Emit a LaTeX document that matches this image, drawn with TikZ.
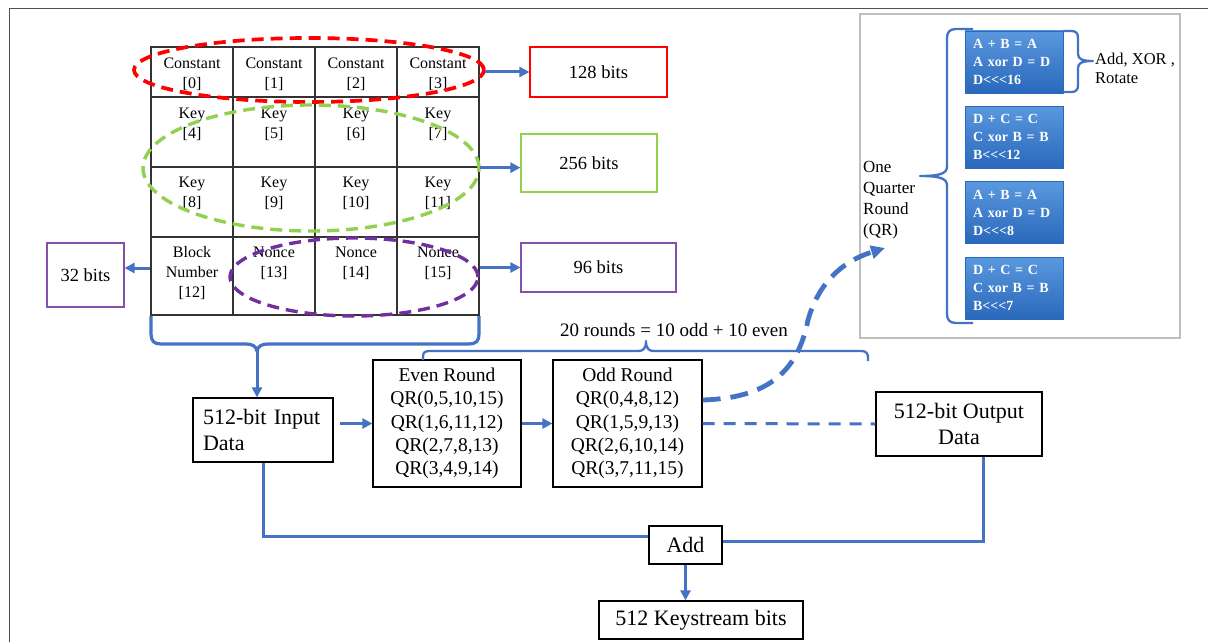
\documentclass[tikz,border=0pt]{standalone}
\usepackage{fontspec}
\setmainfont{Liberation Serif}
\usetikzlibrary{arrows.meta,calc}
\definecolor{lineblue}{HTML}{4472C4}
\definecolor{keyred}{HTML}{FF0000}
\definecolor{keygreen}{HTML}{92D050}
\definecolor{keypurple}{HTML}{7030A0}
\definecolor{panelgray}{HTML}{BFBFBF}
\definecolor{framegray}{HTML}{505050}
\definecolor{qrtop}{HTML}{5A98DE}
\definecolor{qrbot}{HTML}{2A68BC}
\newcommand\fsz[2]{\fontsize{#1}{#2}\selectfont}
\newcommand\rotl{<\kern0pt<\kern0pt<}
\begin{document}
\begin{tikzpicture}[x=1pt,y=-1pt,
  box/.style={draw=black, line width=1.2pt, inner sep=0pt, align=center, font=\fsz{22}{25.5}},
  cell/.style={draw=black!80, line width=1.3pt, minimum width=82pt, inner sep=0pt},
  celltxt/.style={anchor=north, inner sep=0pt, align=center, font=\fsz{16}{20}},
  bitsbox/.style={draw, line width=1.1pt, inner sep=0pt, font=\fsz{18.5}{22}},
  qrbox/.style={top color=qrtop, bottom color=qrbot, draw=qrbot, line width=0.5pt,
    minimum width=98pt, minimum height=62pt, inner xsep=8pt, inner ysep=0pt, text width=82pt,
    align=left, text=white, font=\fsz{14}{18}\bfseries},
  conn/.style={lineblue, line width=3pt},
  arr/.style={conn, -{Triangle[length=10pt,width=10pt]}},
  brace/.style={lineblue, line width=2.3pt, line join=round},
  note/.style={inner sep=0pt, align=left, anchor=north west},
  ring/.style={line width=3.4pt, dash pattern=on 12pt off 7pt}]

\useasboundingbox (0,0) rectangle (1208,642);
\fill[white] (0,0) rectangle (1208,642);
\draw[framegray, line width=1pt] (9,642) -- (9,9) -- (1208,9);

% ---- ChaCha state matrix ----
\foreach \r/\cy/\h in {0/72/50, 1/132/70, 2/202/70, 3/276/78}
  \foreach \c/\cx in {0/192, 1/274, 2/356, 3/438}
  {\pgfmathtruncatemacro\k{4*\r+\c}
   \node[cell, minimum height=\h pt] (c\k) at (\cx,\cy) {};}

\node[celltxt] (t0)  at ($(c0.north)+(0,11)$)  {Constant\\{[0]}};
\node[celltxt] (t1)  at ($(c1.north)+(0,11)$)  {Constant\\{[1]}};
\node[celltxt] (t2)  at ($(c2.north)+(0,11)$)  {Constant\\{[2]}};
\node[celltxt] (t3)  at ($(c3.north)+(0,11)$)  {Constant\\{[3]}};
\node[celltxt] (t4)  at ($(c4.north)+(0,11)$)  {Key\\{[4]}};
\node[celltxt] (t5)  at ($(c5.north)+(0,11)$)  {Key\\{[5]}};
\node[celltxt] (t6)  at ($(c6.north)+(0,11)$)  {Key\\{[6]}};
\node[celltxt] (t7)  at ($(c7.north)+(0,11)$)  {Key\\{[7]}};
\node[celltxt] (t8)  at ($(c8.north)+(0,10)$)  {Key\\{[8]}};
\node[celltxt] (t9)  at ($(c9.north)+(0,10)$)  {Key\\{[9]}};
\node[celltxt] (t10) at ($(c10.north)+(0,10)$) {Key\\{[10]}};
\node[celltxt] (t11) at ($(c11.north)+(0,10)$) {Key\\{[11]}};
\node[celltxt] (t12) at ($(c12.north)+(0,10)$) {Block\\Number\\{[12]}};
\node[celltxt] (t13) at ($(c13.north)+(0,10)$) {Nonce\\{[13]}};
\node[celltxt] (t14) at ($(c14.north)+(0,10)$) {Nonce\\{[14]}};
\node[celltxt] (t15) at ($(c15.north)+(0,10)$) {Nonce\\{[15]}};

% dashed groupings of the state words
\draw[ring, keyred, line width=3.7pt] (309,70) ellipse [x radius=175pt, y radius=32pt];
\draw[ring, keygreen] (311,168) ellipse [x radius=168pt, y radius=63pt];
\draw[ring, keypurple] (354,277) ellipse [x radius=124pt, y radius=39pt];

% ---- sizes of the fields ----
\node[bitsbox, draw=keyred, minimum width=137pt, minimum height=50pt] (b128) at (598.5,72) {128 bits};
\node[bitsbox, draw=keygreen, minimum width=136pt, minimum height=58pt] (b256) at (589,163) {256 bits};
\node[bitsbox, draw=keypurple!85, minimum width=155pt, minimum height=49pt] (b96) at (598.5,267.5) {96 bits};
\node[bitsbox, draw=keypurple!85, minimum width=77pt, minimum height=64pt] (b32) at (85.5,275) {32 bits};

\draw[arr] ([xshift=5pt]c3.east |- b128.west) -- (b128.west);
\draw[arr] (c7.south east) -- (c7.south east -| b256.west);
\draw[arr] (c15.east |- b96.west) -- (b96.west);
\draw[arr] ([yshift=7pt]b32.east -| c12.west) -- ([yshift=7pt]b32.east);

% ---- round pipeline ----
\node[box, minimum width=140pt, minimum height=64pt, text width=120pt, align=left] (in) at (263,430) {512-bit Input\\Data};
\node[box, minimum width=148pt, minimum height=127pt, font=\fsz{19.5}{23.3}] (even) at (447,423.5)
  {Even Round\\QR(0,5,10,15)\\QR(1,6,11,12)\\QR(2,7,8,13)\\QR(3,4,9,14)};
\node[box, minimum width=149pt, minimum height=127pt, font=\fsz{19.5}{23.3}] (odd) at (627.5,423.5)
  {Odd Round\\QR(0,4,8,12)\\QR(1,5,9,13)\\QR(2,6,10,14)\\QR(3,7,11,15)};
\node[box, minimum width=166pt, minimum height=64pt] (out) at (959,424) {512-bit Output\\Data};
\node[box, minimum width=73pt, minimum height=38pt] (add) at (685.5,545) {Add};
\node[box, minimum width=204pt, minimum height=38pt] (ks) at (701,620) {512 Keystream bits};

% brace gathering the whole state
\coordinate (bcusp) at (257,351);
\draw[conn, line width=3.2pt, line join=round] (151,316) -- (151,334) .. controls (151,341) and (154,344) .. (161,344)
  -- (246,344) .. controls (252,344) and (256,346) .. (bcusp)
  .. controls (258,346) and (262,344) .. (268,344) -- (469,344)
  .. controls (476,344) and (479,341) .. (479,334) -- (479,316);
\draw[arr] (bcusp) -- (bcusp |- in.north);

\draw[arr] ([xshift=6pt]in.east |- even.west) -- (even.west);
\draw[arr] (even.east) -- (odd.west);
\draw[conn, dash pattern=on 12pt off 9pt] (odd.east) -- (out.west);
\draw[conn] (in.south) |- ([yshift=9pt]add.west);
\draw[conn] ([xshift=24pt]out.south) |- ([yshift=4pt]add.east);
\draw[arr] (add.south) -- (add.south |- ks.north);

% brace over the twenty rounds
\draw[brace] (423,360) -- (423,357) .. controls (423,352) and (425,351) .. (430,351) -- (638,351)
  .. controls (643,351) and (646,349) .. (646,341) .. controls (646,349) and (649,351) .. (654,351)
  -- (861,351) .. controls (866,351) and (868,353) .. (868,358) -- (868,361);
\node[inner sep=0pt, font=\fsz{19}{22}] (rounds) at (674,330) {20 rounds = 10 odd + 10 even};

% ---- quarter round detail ----
\node[draw=panelgray, line width=1.3pt, minimum width=320pt, minimum height=324pt, inner sep=0pt] (panel) at (1020,176) {};
\node[qrbox] (q1) at (1014,62)    {A + B = A\\A xor D = D\\D\rotl16};
\node[qrbox] (q2) at (1014,137)   {D + C = C\\C xor B = B\\B\rotl12};
\node[qrbox] (q3) at (1014,212.5) {A + B = A\\A xor D = D\\D\rotl8};
\node[qrbox] (q4) at (1014,288)   {D + C = C\\C xor B = B\\B\rotl7};

\draw[brace] (973,29) -- (956,29) .. controls (950,29) and (947,32) .. (947,38) -- (947,166)
  .. controls (947,173) and (942,176) .. (920,176) .. controls (942,176) and (947,179) .. (947,186)
  -- (947,314) .. controls (947,320) and (950,323) .. (956,323) -- (973,323);
\draw[brace] (1063,31) -- (1071,31) .. controls (1076,31) and (1078,33) .. (1078,38) -- (1078,54)
  .. controls (1078,59) and (1082,61) .. (1093,61) .. controls (1082,61) and (1078,63) .. (1078,68)
  -- (1078,85) .. controls (1078,90) and (1076,92) .. (1071,92) -- (1063,92);

\node[note, font=\fsz{16.5}{19}] (ops) at (1095,53) {Add, XOR ,\\Rotate};
\node[note, font=\fsz{17}{21}] (qrlabel) at (863,161) {One\\Quarter\\Round\\(QR)};

% link from the odd round to the quarter round detail
\coordinate (qrtip) at (885,248);
\draw[lineblue, line width=4.8pt, dash pattern=on 18pt off 10pt, -{Triangle[length=14pt,width=13pt]}]
  ([yshift=23.5pt]odd.east) .. controls (770,398) and (798,370) .. (808,320)
  .. controls (818,285) and (840,262) .. (qrtip);
\end{tikzpicture}
\end{document}
